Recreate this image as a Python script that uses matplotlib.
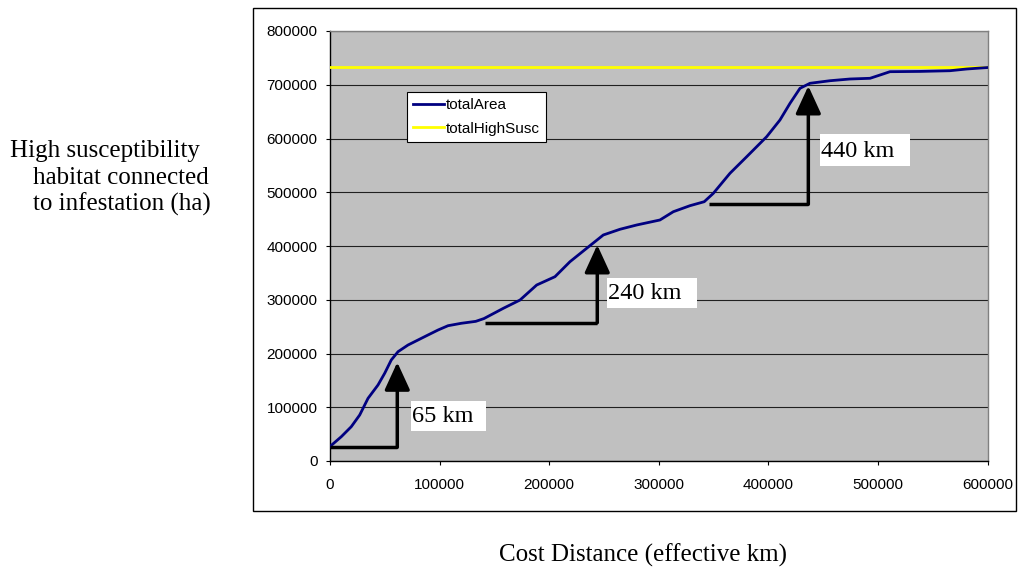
import matplotlib
matplotlib.use("Agg")
import matplotlib.pyplot as plt
from matplotlib.patches import Rectangle

# ---- data ----
cost_distance = [0, 10300, 19400, 27100, 34700, 43800, 49900, 55900, 62100, 71200,
                 80300, 89400, 98600, 107700, 119800, 133000, 140500, 158200, 173400,
                 188600, 205300, 219000, 234200, 249400, 264600, 279900, 301100,
                 313300, 328500, 341500, 349800, 365000, 380300, 398500, 410600,
                 419800, 428900, 438000, 456300, 474500, 492800, 501900, 511000,
                 538400, 565700, 581000, 597700, 600000]
total_area = [27000, 45200, 63800, 85600, 116600, 141400, 163200, 187900, 203400, 215800,
              225100, 234400, 243700, 251700, 256200, 259800, 265000, 284100, 299500,
              327400, 342900, 370800, 395700, 420500, 431100, 439100, 448400,
              463800, 475000, 482400, 498000, 535300, 566200, 603400, 634400,
              665500, 693400, 702700, 707500, 710700, 712000, 718100, 724300,
              724800, 726100, 729300, 731700, 732000]
total_high_susc = 733000

x_ticks = [0, 100000, 200000, 300000, 400000, 500000, 600000]
y_ticks = [0, 100000, 200000, 300000, 400000, 500000, 600000, 700000, 800000]

# annotations: label, start x of horizontal leg, arrow x, base y, tip y
arrow_labels = ["65 km", "240 km", "440 km"]
arrow_start_x = [0, 141400, 346100]
arrow_x = [61400, 243900, 436500]
arrow_base_y = [25500, 257300, 477600]
arrow_tip_y = [183600, 401900, 697700]
box_x0 = [73900, 252500, 447100]
box_x1 = [142400, 334600, 529300]
box_y0 = [55800, 284100, 548800]
box_y1 = [111600, 339900, 608400]
text_y = [82800, 312000, 575500]

W, H = 1019, 569
fig = plt.figure(figsize=(W / 100, H / 100), dpi=100)
fig.patch.set_facecolor("white")

# outer chart border
fig.add_artist(Rectangle((253 / W, 1 - 511 / H), (1016 - 253) / W, (511 - 8) / H,
                         transform=fig.transFigure, fill=False, edgecolor="black", lw=1.0))

ax = fig.add_axes([330 / W, 1 - 461 / H, 657.5 / W, 430 / H])
ax.set_facecolor("#C0C0C0")
ax.set_xlim(0, 600000)
ax.set_ylim(0, 800000)
ax.set_xticks(x_ticks)
ax.set_yticks(y_ticks)
ax.set_xticklabels([str(v) for v in x_ticks], family="Liberation Sans", fontsize=11)
ax.set_yticklabels([str(v) for v in y_ticks], family="Liberation Sans", fontsize=11)
ax.tick_params(direction="out", length=3, width=0.8, color="black")
ax.tick_params(axis="x", pad=9)
ax.tick_params(axis="y", pad=6)
ax.grid(axis="y", color="#202020", lw=0.8)
ax.set_axisbelow(True)
for s in ["left", "bottom"]:
    ax.spines[s].set_color("black")
    ax.spines[s].set_linewidth(1.0)
for s in ["top", "right"]:
    ax.spines[s].set_color("#808080")
    ax.spines[s].set_linewidth(1.0)

ax.axhline(total_high_susc, color="#FFFF00", lw=2.0, label="totalHighSusc", zorder=3)
ax.plot(cost_distance, total_area, color="#000080", lw=2.0, label="totalArea", zorder=4)

handles, labels = ax.get_legend_handles_labels()
leg = ax.legend(handles[::-1], labels[::-1], loc="upper left",
                bbox_to_anchor=(0.1176, 0.8574), borderaxespad=0,
                frameon=True, fancybox=False, edgecolor="black", framealpha=1,
                prop={"family": "Liberation Sans", "size": 11},
                handlelength=2.0, handletextpad=0.15, labelspacing=0.6,
                borderpad=0.4)
leg.get_frame().set_linewidth(0.8)

for i in range(3):
    ax.plot([arrow_start_x[i], arrow_x[i]], [arrow_base_y[i], arrow_base_y[i]],
            color="black", lw=2.5, solid_capstyle="butt", zorder=5)
    ax.annotate("", xy=(arrow_x[i], arrow_tip_y[i]), xytext=(arrow_x[i], arrow_base_y[i]),
                arrowprops=dict(arrowstyle="-|>,head_length=17,head_width=7.8",
                                mutation_scale=1, lw=2.5, color="black",
                                shrinkA=0, shrinkB=0), zorder=5)
    ax.add_patch(Rectangle((box_x0[i], box_y0[i]), box_x1[i] - box_x0[i], box_y1[i] - box_y0[i],
                           facecolor="white", edgecolor="none", zorder=5))
    ax.text(box_x0[i] + 1000, text_y[i], arrow_labels[i], family="Liberation Serif",
            fontsize=17.5, ha="left", va="center", zorder=6)

# y label (three lines)
fig.text(10 / W, 1 - 157 / H, "High susceptibility", family="Liberation Serif",
         fontsize=18, ha="left", va="baseline")
fig.text(33 / W, 1 - 184 / H, "habitat connected", family="Liberation Serif",
         fontsize=18, ha="left", va="baseline")
fig.text(33 / W, 1 - 211 / H, "to infestation (ha)", family="Liberation Serif",
         fontsize=18, ha="left", va="baseline")

fig.text(643 / W, 1 - 562 / H, "Cost Distance (effective km)", family="Liberation Serif",
         fontsize=18, ha="center", va="baseline")

fig.savefig("out.png", dpi=100)
